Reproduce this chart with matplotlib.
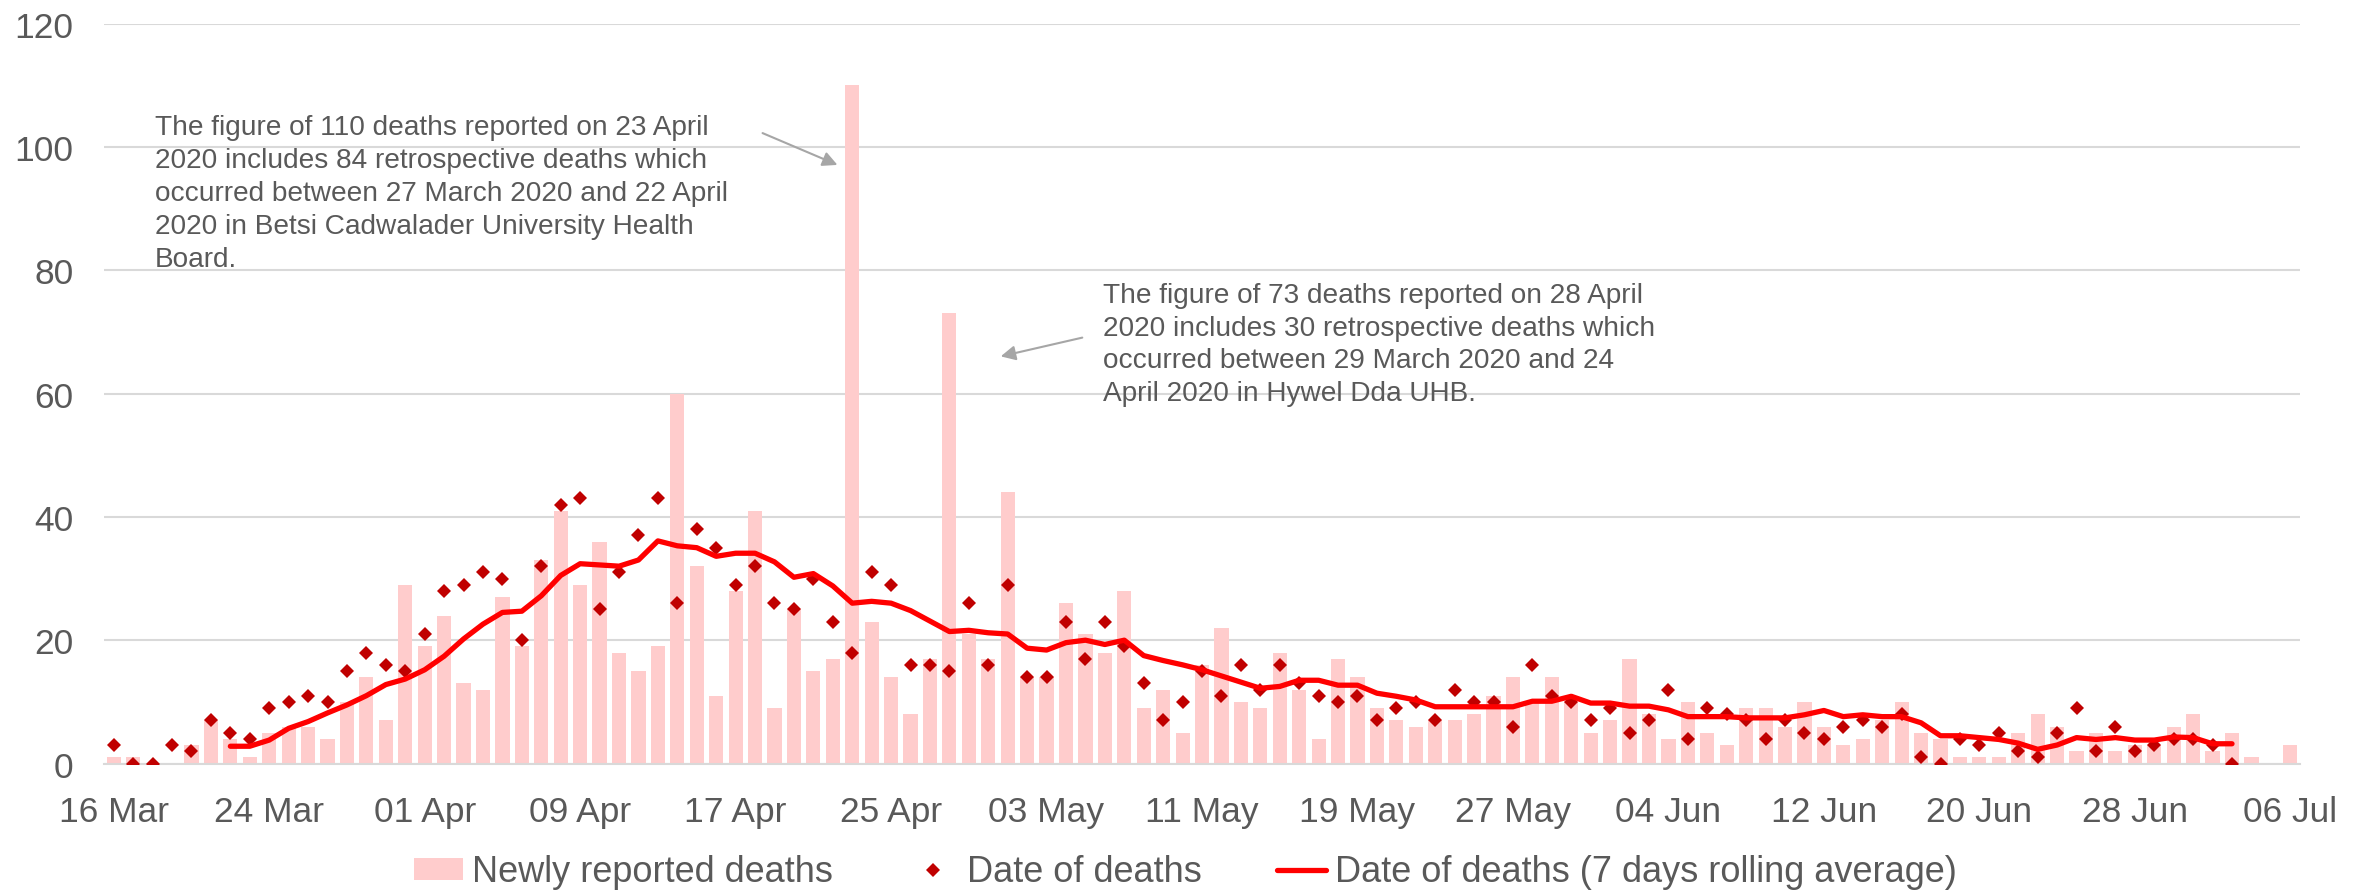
import matplotlib
matplotlib.use("Agg")
import matplotlib.pyplot as plt
import matplotlib.dates as mdates
import pandas as pd

plt.rcParams['font.family'] = ['Liberation Sans', 'DejaVu Sans']

# one category per day, 16 Mar - 06 Jul 2020
dates = pd.date_range("2020-03-16", "2020-07-06", freq="D")

# newly reported deaths (bars)
new_deaths = [1, 1, 0, 0, 3, 7, 4, 1, 5, 6, 6, 4, 10, 14, 7, 29, 19, 24, 13, 12,
              27, 19, 33, 41, 29, 36, 18, 15, 19, 60, 32, 11, 28, 41, 9, 25, 15, 17, 110, 23,
              14, 8, 17, 73, 21, 17, 44, 14, 14, 26, 21, 18, 28, 9, 12, 5, 16, 22, 10, 9,
              18, 12, 4, 17, 14, 9, 7, 6, 7, 7, 8, 11, 14, 10, 14, 10, 5, 7, 17, 8,
              4, 10, 5, 3, 9, 9, 6, 10, 6, 3, 4, 7, 10, 5, 4, 1, 1, 1, 5, 8,
              6, 2, 5, 2, 3, 3, 6, 8, 2, 5, 1, 0, 3]

# deaths by date of death (diamonds), 16 Mar - 03 Jul
date_deaths = [3, 0, 0, 3, 2, 7, 5, 4, 9, 10, 11, 10, 15, 18, 16, 15, 21, 28, 29, 31,
               30, 20, 32, 42, 43, 25, 31, 37, 43, 26, 38, 35, 29, 32, 26, 25, 30, 23, 18, 31,
               29, 16, 16, 15, 26, 16, 29, 14, 14, 23, 17, 23, 19, 13, 7, 10, 15, 11, 16, 12,
               16, 13, 11, 10, 11, 7, 9, 10, 7, 12, 10, 10, 6, 16, 11, 10, 7, 9, 5, 7,
               12, 4, 9, 8, 7, 4, 7, 5, 4, 6, 7, 6, 8, 1, 0, 4, 3, 5, 2, 1,
               5, 9, 2, 6, 2, 3, 4, 4, 3, 0]

# 7 day rolling average of date of deaths, 22 Mar - 03 Jul
rolling_avg = [2.8, 2.8, 3.8, 5.7, 6.8, 8.2, 9.5, 11.0, 12.8, 13.7, 15.2, 17.4, 20.2, 22.6,
               24.5, 24.7, 27.2, 30.5, 32.4, 32.2, 32.0, 33.0, 36.1, 35.3, 35.0, 33.6, 34.1,
               34.1, 32.7, 30.2, 30.8, 28.8, 26.0, 26.3, 26.0, 24.8, 23.1, 21.4, 21.6, 21.2,
               21.0, 18.7, 18.4, 19.6, 20.0, 19.3, 20.0, 17.5, 16.7, 16.0, 15.2, 14.2, 13.2,
               12.2, 12.5, 13.5, 13.5, 12.7, 12.7, 11.4, 10.9, 10.3, 9.2, 9.2, 9.2, 9.2, 9.2,
               10.1, 10.1, 10.9, 9.8, 9.8, 9.3, 9.3, 8.7, 7.6, 7.6, 7.6, 7.4, 7.4, 7.4, 7.9,
               8.6, 7.6, 7.9, 7.6, 7.6, 6.6, 4.5, 4.5, 4.2, 3.9, 3.3, 2.3, 3.0, 4.2, 3.9, 4.2,
               3.8, 3.8, 4.3, 4.2, 3.2, 3.2]

note_110 = ("The figure of 110 deaths reported on 23 April\n"
            "2020 includes 84 retrospective deaths which\n"
            "occurred between 27 March 2020 and 22 April\n"
            "2020 in Betsi Cadwalader University Health\n"
            "Board.")
note_73 = ("The figure of 73 deaths reported on 28 April\n"
           "2020 includes 30 retrospective deaths which\n"
           "occurred between 29 March 2020 and 24\n"
           "April 2020 in Hywel Dda UHB.")

grey = '#595959'

fig = plt.figure(figsize=(23.59, 8.95), dpi=100)
ax = fig.add_axes([0.0441, 0.1458, 0.9309, 0.8268])

bars = ax.bar(dates, new_deaths, width=0.73, color='#FFCCCC', label='Newly reported deaths', zorder=2)
dots, = ax.plot(dates[:len(date_deaths)], date_deaths, 'D', color='#C00000', markersize=7.2,
                markeredgewidth=0, linestyle='none', label='Date of deaths', zorder=3)
line, = ax.plot(dates[6:6 + len(rolling_avg)], rolling_avg, color='#FF0000', lw=3.8,
                solid_capstyle='round', label='Date of deaths (7 days rolling average)', zorder=4)

ax.set_ylim(0, 120)
ax.set_yticks(range(0, 121, 20))
ax.set_xlim(dates[0] - pd.Timedelta(hours=12), dates[-1] + pd.Timedelta(hours=12))
ax.set_xticks(dates[::8])
ax.xaxis.set_major_formatter(mdates.DateFormatter('%d %b'))

ax.grid(axis='y', color='#D9D9D9', lw=1.5, zorder=0)
ax.set_axisbelow(True)
for s in ['top', 'right', 'left']:
    ax.spines[s].set_visible(False)
ax.spines['bottom'].set_color('#D9D9D9')
ax.spines['bottom'].set_linewidth(1.5)
ax.tick_params(axis='both', length=0, labelsize=25.5, colors=grey)
ax.tick_params(axis='x', pad=23)
ax.tick_params(axis='y', pad=22)

# notes about the retrospective deaths
fig.text(0.0657, 0.871, note_110, fontsize=20.2, color=grey, va='top', ha='left', linespacing=1.34)
fig.text(0.4676, 0.684, note_73, fontsize=20.2, color=grey, va='top', ha='left', linespacing=1.34)
arrow = dict(arrowstyle='-|>', color='#A6A6A6', lw=1.5, mutation_scale=22)
ax.annotate('', xy=(840 / 2359, 1 - 167 / 895), xytext=(760 / 2359, 1 - 133 / 895),
            xycoords='figure fraction', textcoords='figure fraction', arrowprops=arrow)
ax.annotate('', xy=(998 / 2359, 1 - 358 / 895), xytext=(1085 / 2359, 1 - 338 / 895),
            xycoords='figure fraction', textcoords='figure fraction', arrowprops=arrow)

leg = fig.legend(handles=[bars, dots, line], loc='center', bbox_to_anchor=(0.5025, 0.0246),
                 ncol=3, frameon=False, fontsize=26, handlelength=1.36, handleheight=0.55,
                 columnspacing=2.1, handletextpad=0.25, borderpad=0)
for t in leg.get_texts():
    t.set_color(grey)

fig.savefig('out.png', dpi=100)
